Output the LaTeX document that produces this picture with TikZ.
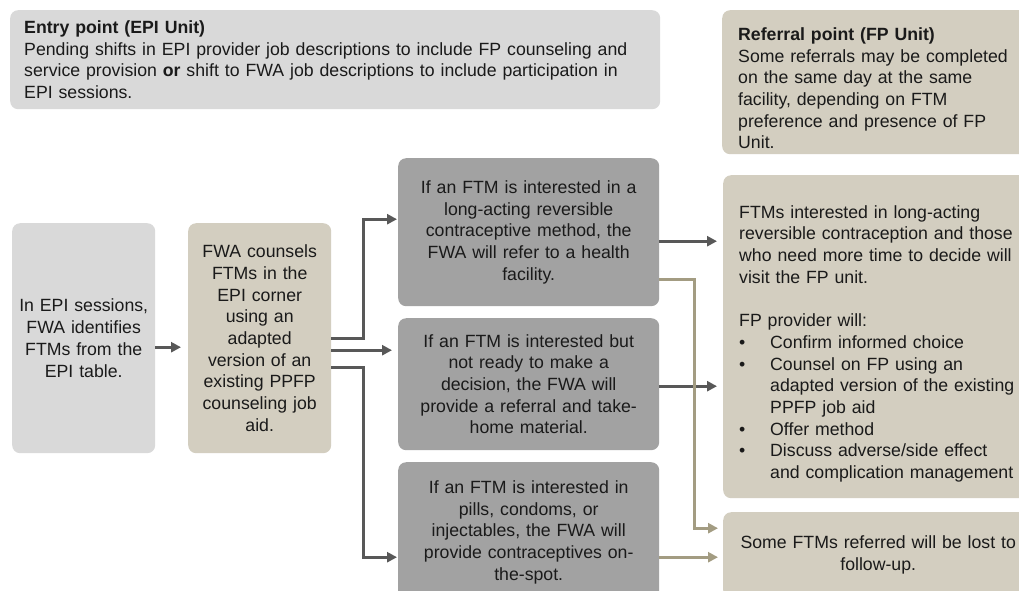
\documentclass[tikz,border=0pt]{standalone}
\usepackage{fontspec}
\setmainfont{Liberation Sans}
\usetikzlibrary{arrows.meta,calc}
\definecolor{lgray}{HTML}{D9D9D9}
\definecolor{tanbox}{HTML}{D3CEC0}
\definecolor{dbox}{HTML}{A2A2A2}
\definecolor{arrc}{HTML}{585858}
\definecolor{tarrc}{HTML}{A39C82}
\definecolor{txt}{HTML}{1A1A1A}
\newcommand{\bul}{\makebox[31pt][l]{\textbullet}}
\newcommand{\ind}{\hspace*{31pt}}
\begin{document}
\begin{tikzpicture}[x=1pt,y=-1pt,
  every node/.style={text=txt, font=\fontsize{17.7}{21.7}\selectfont},
  box/.style={rounded corners=8pt, inner xsep=0pt, inner ysep=0pt, anchor=north west},
  arr/.style={draw=arrc, line width=2.8pt, -{Triangle[length=10pt,width=10pt]}},
  tarr/.style={draw=tarrc, line width=2.8pt, -{Triangle[length=10pt,width=10pt]}}]
\useasboundingbox (0,0) rectangle (1019,590);
\fill[white] (0,0) rectangle (1019,590);
\clip (0,0) rectangle (1019,590);

\node[box, fill=lgray, minimum width=650pt, minimum height=99pt, text width=622pt, align=left] (entry) at (10,10)
 {\textbf{Entry point (EPI Unit)}\\
 Pending shifts in EPI provider job descriptions to include FP counseling and\\
 service provision \textbf{or} shift to FWA job descriptions to include participation in\\
 EPI sessions.};

\node[box, fill=tanbox, minimum width=320pt, minimum height=144pt, text width=288pt, align=left] (refp) at (722,10)
 {\rule{0pt}{25pt}\textbf{Referral point (FP Unit)}\\
 Some referrals may be completed\\
 on the same day at the same\\
 facility, depending on FTM\\
 preference and presence of FP\\
 Unit.};

\node[box, fill=lgray, minimum width=143pt, minimum height=230pt, text width=143pt, align=center] (epi) at (12,223)
 {In EPI sessions,\\ FWA identifies\\ FTMs from the\\ EPI table.};

\node[box, fill=tanbox, minimum width=143pt, minimum height=230pt, text width=143pt, align=center] (fwa) at (188,223)
 {FWA counsels\\ FTMs in the\\ EPI corner\\ using an\\ adapted\\ version of an\\ existing PPFP\\ counseling job\\ aid.};

\node[box, fill=dbox, minimum width=261pt, minimum height=148pt, text width=261pt, align=center] (d1) at (398,158)
 {If an FTM is interested in a\\ long-acting reversible\\ contraceptive method, the\\ FWA will refer to a health\\ facility.};

\node[box, fill=dbox, minimum width=261pt, minimum height=132pt, text width=261pt, align=center] (d2) at (398,318)
 {If an FTM is interested but\\ not ready to make a\\ decision, the FWA will\\ provide a referral and take-\\ home material.};

\node[box, fill=dbox, minimum width=261pt, minimum height=140pt, text width=261pt, align=center] (d3) at (398,462)
 {If an FTM is interested in\\ pills, condoms, or\\ injectables, the FWA will\\ provide contraceptives on-\\ the-spot.};

\node[box, fill=tanbox, minimum width=320pt, minimum height=323pt, text width=288pt, align=left] (r1) at (723,175)
 {\rule{0pt}{27pt}FTMs interested in long-acting\\
 reversible contraception and those\\
 who need more time to decide will\\
 visit the FP unit.\\[21.7pt]
 FP provider will:\\
 \bul Confirm informed choice\\
 \bul Counsel on FP using an\\
 \ind adapted version of the existing\\
 \ind PPFP job aid\\
 \bul Offer method\\
 \bul Discuss adverse/side effect\\
 \ind and complication management};

\node[box, fill=tanbox, minimum width=310pt, minimum height=86pt, text width=290pt, align=center] (r2) at (723,512)
 {Some FTMs referred will be lost to\\ follow-up.};

% connectors
\draw[arr] ([yshift=-9pt]epi.east) -- ([xshift=-7pt,yshift=-9pt]fwa.west);
\draw[arr] (fwa.east) -- ++(32,0) |- ([xshift=-1pt,yshift=13pt]d1.west);
\draw[arr] ([yshift=-12pt]fwa.east) -- ([xshift=-6pt,yshift=34pt]d2.west);
\draw[arr] ([yshift=-29pt]fwa.east) -- ++(32,0) |- ([xshift=-1pt,yshift=-25pt]d3.west);

\coordinate (a1) at ([yshift=-9pt]d1.east);
\draw[arr] (a1) -- ($(a1 -| r1.west)+(-6,0)$);
\coordinate (a2) at ([yshift=-2pt]d2.east);
\draw[arr] (a2) -- ($(a2 -| r1.west)+(-6,0)$);

\draw[tarr] ([yshift=-47pt]d1.east) -- ++(35,0) |- ([xshift=-5pt,yshift=27pt]r2.west);
\coordinate (a3) at ([yshift=-25pt]d3.east);
\draw[tarr] (a3) -- ($(a3 -| r2.west)+(-5,0)$);
\end{tikzpicture}
\end{document}
